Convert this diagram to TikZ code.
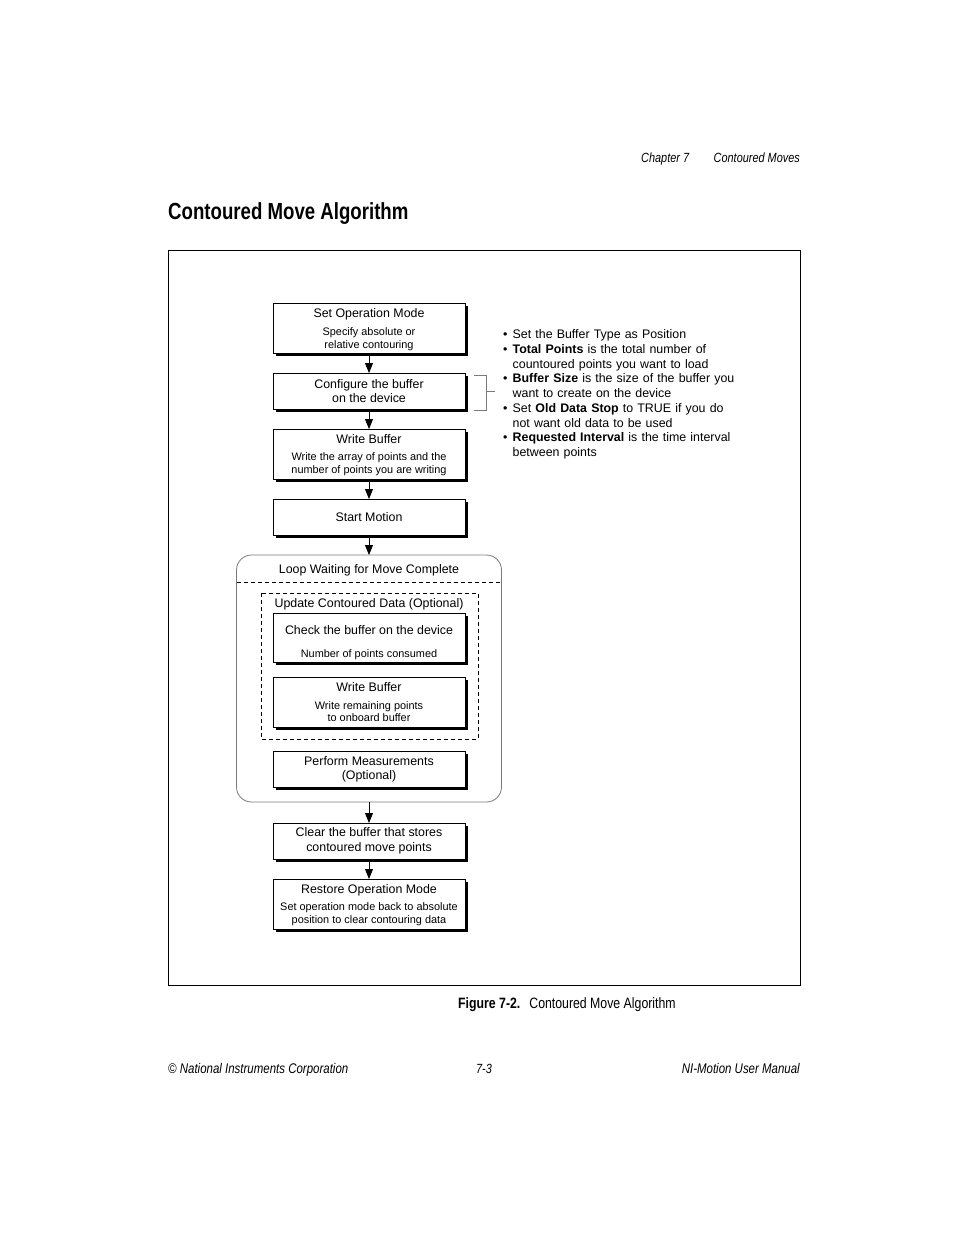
\documentclass[tikz,border=0pt]{standalone}
\usepackage{fontspec}
\setmainfont{Liberation Sans}
\newfontfamily\narrowfont[FakeStretch=0.82]{Liberation Sans}
\newfontfamily\titlefont[FakeStretch=0.80]{Liberation Sans}
\usetikzlibrary{arrows.meta,positioning,calc,shadows}
\definecolor{loopgray}{HTML}{7A7A7A}
\newcommand\boxfont{\fontsize{12.4}{14.8}\selectfont}
\newcommand\notesize{\fontsize{10.9}{13}\selectfont}
\newcommand\bul{\makebox[9.5pt][l]{\textbullet}}
\newcommand\cont{\hspace*{9.5pt}}
\tikzset{
  stepbox/.style={draw, fill=white, line width=0.7pt, text width=192pt, align=flush center,
    inner xsep=0pt, inner ysep=0pt, outer sep=0pt, font=\boxfont,
    drop shadow={shadow xshift=2.5pt, shadow yshift=-2.5pt, fill=black, opacity=1}},
  tallbox/.style={stepbox, minimum height=50pt, text height=12pt},
  shortbox/.style={stepbox, minimum height=36pt},
  loopbox/.style={draw=loopgray, line width=0.8pt, rounded corners=15pt, fill=white,
    minimum width=265pt, minimum height=247pt, inner sep=0pt, outer sep=0pt},
  dashline/.style={line width=0.7pt, dash pattern=on 4pt off 3pt},
  flow/.style={-{Triangle[length=10pt,width=8pt]}, line width=0.8pt},
  bracket/.style={draw=loopgray, line width=0.8pt},
  pagetext/.style={font=\narrowfont\itshape\fontsize{13.3}{16}\selectfont, inner sep=0pt}
}
\begin{document}
\begin{tikzpicture}[x=1pt, y=-1pt]
  \useasboundingbox (0,0) rectangle (954,1235);

  % page header and title
  \node[pagetext, anchor=base west] (chap) at (641,162) {Chapter 7};
  \node[pagetext, anchor=base east] (chapname) at (800,162) {Contoured Moves};
  \node[anchor=base west, inner sep=0pt, font=\titlefont\bfseries\fontsize{23.3}{28}\selectfont]
    (title) at (168,219) {Contoured Move Algorithm};

  % figure frame
  \draw[line width=0.8pt] (168,250) rectangle (800,985);

  % main flow
  \node[tallbox] (setmode) at (369,328) {Set Operation Mode\\[4.5pt]\notesize Specify absolute or\\[-2pt]relative contouring};
  \node[shortbox, below=20pt of setmode] (config) {Configure the buffer\\[-0.5pt]on the device};
  \node[tallbox, below=20pt of config] (writebuf) {Write Buffer\\[4pt]\notesize Write the array of points and the\\[-2pt]number of points you are writing};
  \node[shortbox, below=20pt of writebuf] (start) {Start Motion};
  \node[loopbox, below=20pt of start] (loop) {};
  \node[shortbox, below=21pt of loop] (clear) {Clear the buffer that stores\\contoured move points};
  \node[tallbox, below=20pt of clear] (restore) {Restore Operation Mode\\[4pt]\notesize Set operation mode back to absolute\\[-2pt]position to clear contouring data};

  % inside the loop
  \node[font=\boxfont, inner sep=0pt] (looplabel) at ([yshift=-15pt]loop.north) {Loop Waiting for Move Complete};
  \draw[dashline] ([yshift=-27pt]loop.north west) -- ([yshift=-27pt]loop.north east);
  \node[stepbox, minimum height=49pt, text height=18.8pt, below=58pt of loop.north] (check)
    {Check the buffer on the device\\[8pt]\notesize Number of points consumed};
  \node[tallbox, text height=9.5pt, below=15pt of check] (writerem) {Write Buffer\\[4.5pt]\notesize Write remaining points\\[-2pt]to onboard buffer};
  \node[shortbox, below=24pt of writerem] (measure) {Perform Measurements\\[-0.5pt](Optional)};
  \node[font=\boxfont, inner sep=0pt] (updlabel) at ([yshift=9pt]check.north) {Update Contoured Data (Optional)};
  \draw[dashline] ($(check.north west)+(-12pt,20pt)$) rectangle ($(writerem.south east)+(13pt,-12pt)$);

  \draw[flow] (setmode) -- (config);
  \draw[flow] (config) -- (writebuf);
  \draw[flow] (writebuf) -- (start);
  \draw[flow] (start) -- (loop);
  \draw[flow] (loop) -- (clear);
  \draw[flow] (clear) -- (restore);

  % buffer settings
  \node[anchor=north west, inner sep=0pt, text width=260pt, font=\fontsize{12.4}{14.75}\selectfont] (notes) at (503,329.5)
    {\bul Set the Buffer Type as Position\\
     \bul \textbf{Total Points} is the total number of\\
     \cont countoured points you want to load\\
     \bul \textbf{Buffer Size} is the size of the buffer you\\
     \cont want to create on the device\\
     \bul Set \textbf{Old Data Stop} to TRUE if you do\\
     \cont not want old data to be used\\
     \bul \textbf{Requested Interval} is the time interval\\
     \cont between points};
  \draw[bracket] ([xshift=9pt,yshift=-2pt]config.north east) -- ++(12pt,0pt)
    |- ([xshift=9pt,yshift=-1pt]config.south east);
  \draw[bracket, shorten >=8pt] ([xshift=21pt]config.east) -- (notes.west |- config.east);

  % caption and footer
  \node[anchor=base west, inner sep=0pt, font=\narrowfont\fontsize{15}{18}\selectfont] (caption) at (458,1008)
    {\textbf{Figure 7-2.}\hspace{0.6em}Contoured Move Algorithm};
  \node[pagetext, font=\narrowfont\itshape\fontsize{14}{16}\selectfont, anchor=base west] (corp) at (168,1073.5) {© National Instruments Corporation};
  \node[pagetext, anchor=base] (pageno) at (484,1073.5) {7-3};
  \node[pagetext, font=\narrowfont\itshape\fontsize{14}{16}\selectfont, anchor=base east] (manual) at (800,1073.5) {NI-Motion User Manual};
\end{tikzpicture}
\end{document}
